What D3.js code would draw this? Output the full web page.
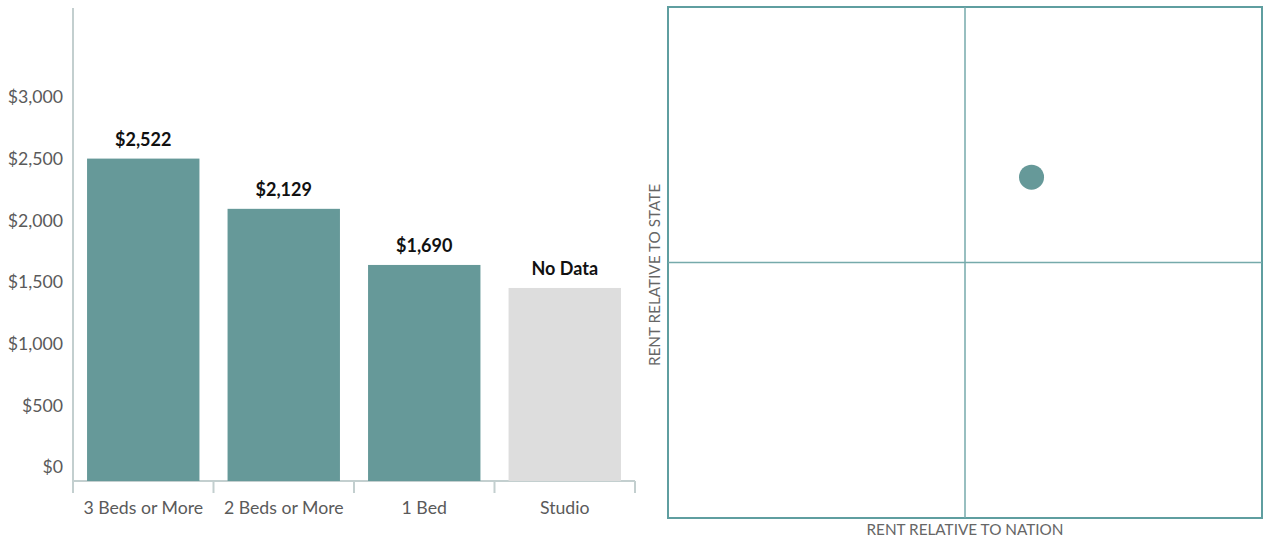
<!DOCTYPE html>
<html lang="en">

<head>
  <meta charset="utf-8">
  <title>Rent by bedrooms</title>
  <script src="https://d3js.org/d3.v7.min.js" charset="utf-8"></script>
  <style type="text/css">
    body {
      margin: 0;
      background: #fff;
      font-family: Lato, "Open Sans", sans-serif;
    }

    .axis text {
      fill: #5a5a5a;
      font-size: 17.7px;
      font-family: Lato, sans-serif;
    }

    .axis path,
    .axis line {
      stroke: #c3cfcf;
      stroke-width: 2;
    }

    .value {
      font-size: 18px;
      font-weight: bold;
      fill: #111;
    }

    .title {
      font-size: 15.3px;
      fill: #666;
    }
  </style>
</head>

<body>

  <svg id="chart"></svg>

  <script type="text/javascript">
    const W = 1263;
    const H = 542;

    // bar data
    const categories = ["3 Beds or More", "2 Beds or More", "1 Bed", "Studio"];
    const rents = [2522, 2129, 1690, 1510];
    const hasData = [true, true, true, false];
    const yTicks = [0, 500, 1000, 1500, 2000, 2500, 3000];

    // quadrant dot: rent relative to nation (x), to state (y)
    const relNation = [0.224];
    const relState = [0.334];

    const svg = d3.select("#chart")
      .attr("width", W)
      .attr("height", H);

    // ---- left: bar chart ----
    const plotL = 73, plotR = 635, plotT = 8, plotB = 481;

    const xScale = d3.scaleBand()
      .domain(categories)
      .range([plotL, plotR])
      .padding(0);

    const yScale = d3.scaleLinear()
      .domain([0, 3700])
      .range([plotB, plotT]);

    // tick labels sit on their own slightly compressed scale
    const tickScale = d3.scaleLinear()
      .domain([0, 3000])
      .range([467, 97]);

    const barW = xScale.bandwidth() * 0.8;

    svg.append("line")
      .attr("x1", plotL).attr("x2", plotL)
      .attr("y1", plotT).attr("y2", plotB)
      .attr("stroke", "#c3cfcf")
      .attr("stroke-width", 2);

    svg.append("g")
      .attr("class", "axis")
      .selectAll("text")
      .data(yTicks)
      .join("text")
      .attr("x", 63)
      .attr("y", d => tickScale(d))
      .attr("dy", "0.35em")
      .attr("text-anchor", "end")
      .text(d => d3.format("$,")(d));

    // x axis with ticks on band boundaries
    const xAxis = svg.append("g").attr("class", "axis");
    xAxis.append("line")
      .attr("x1", plotL).attr("x2", plotR)
      .attr("y1", plotB).attr("y2", plotB);
    xAxis.selectAll(".tick")
      .data(categories.map(c => xScale(c)).concat([plotR]))
      .join("line")
      .attr("class", "tick")
      .attr("x1", d => d).attr("x2", d => d)
      .attr("y1", plotB).attr("y2", plotB + 12);
    xAxis.selectAll(".lbl")
      .data(categories)
      .join("text")
      .attr("class", "lbl")
      .attr("x", d => xScale(d) + xScale.bandwidth() / 2)
      .attr("y", 508)
      .attr("dy", "0.35em")
      .attr("text-anchor", "middle")
      .text(d => d);

    const bars = categories.map((c, i) => ({ cat: c, v: rents[i], ok: hasData[i] }));

    svg.selectAll(".bar")
      .data(bars)
      .join("rect")
      .attr("class", "bar")
      .attr("x", d => xScale(d.cat) + (xScale.bandwidth() - barW) / 2)
      .attr("y", d => yScale(d.v))
      .attr("width", barW)
      .attr("height", d => plotB - yScale(d.v))
      .attr("fill", d => d.ok ? "#669999" : "#dddddd");

    svg.selectAll(".value")
      .data(bars)
      .join("text")
      .attr("class", "value")
      .attr("x", d => xScale(d.cat) + xScale.bandwidth() / 2)
      .attr("y", d => yScale(d.v) - 13)
      .attr("text-anchor", "middle")
      .text(d => d.ok ? d3.format("$,")(d.v) : "No Data");

    // ---- right: quadrant ----
    const qx = d3.scaleLinear().domain([-1, 1]).range([668, 1262]);
    const qy = d3.scaleLinear().domain([-1, 1]).range([518, 7]);

    svg.append("rect")
      .attr("x", qx(-1)).attr("y", qy(1))
      .attr("width", qx(1) - qx(-1))
      .attr("height", qy(-1) - qy(1))
      .attr("fill", "none")
      .attr("stroke", "#5f9ea0")
      .attr("stroke-width", 2);

    svg.append("line")
      .attr("x1", qx(0)).attr("x2", qx(0))
      .attr("y1", qy(1)).attr("y2", qy(-1))
      .attr("stroke", "#76aaab")
      .attr("stroke-width", 1.5);

    svg.append("line")
      .attr("x1", qx(-1)).attr("x2", qx(1))
      .attr("y1", qy(0)).attr("y2", qy(0))
      .attr("stroke", "#76aaab")
      .attr("stroke-width", 1.5);

    svg.selectAll(".dot")
      .data(relNation.map((d, i) => [d, relState[i]]))
      .join("circle")
      .attr("class", "dot")
      .attr("cx", d => qx(d[0]))
      .attr("cy", d => qy(d[1]))
      .attr("r", 12.5)
      .attr("fill", "#669999");

    svg.append("text")
      .attr("class", "title")
      .attr("x", qx(0))
      .attr("y", 530)
      .attr("dy", "0.35em")
      .attr("text-anchor", "middle")
      .text("RENT RELATIVE TO NATION");

    svg.append("text")
      .attr("class", "title")
      .attr("transform", "translate(655, 275) rotate(-90)")
      .attr("dy", "0.35em")
      .attr("text-anchor", "middle")
      .text("RENT RELATIVE TO STATE");
  </script>
</body>

</html>
